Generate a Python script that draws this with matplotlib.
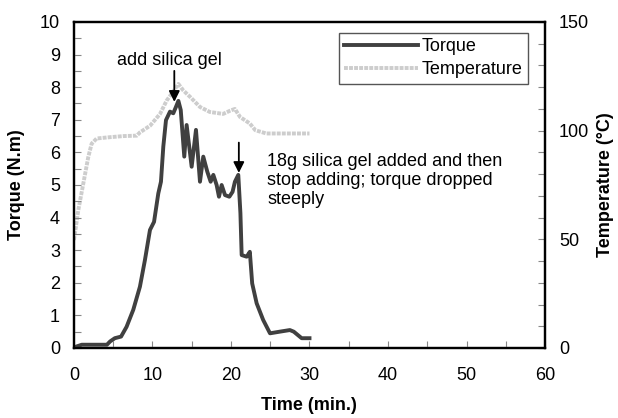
import matplotlib
matplotlib.use("Agg")
import matplotlib.pyplot as plt
from matplotlib.ticker import MultipleLocator

plt.rcParams["font.family"] = ["Liberation Sans", "DejaVu Sans"]

# Torque (N.m) vs time (min.)
torque_time = [0, 1, 2, 3, 4.2, 4.6, 5.2, 6.0, 6.7, 7.55, 8.4, 9.04, 9.68, 10.2,
               10.74, 11.08, 11.38, 11.72, 12.23, 12.65, 13.0, 13.3, 13.6, 14.05,
               14.35, 14.99, 15.54, 16.05, 16.47, 16.98, 17.41, 17.75, 18.17,
               18.47, 18.81, 19.24, 19.79, 20.2, 20.5, 20.93, 21.2, 21.36, 22.0,
               22.4, 22.7, 23.27, 24.1, 24.97, 26.2, 27.5, 28.0, 29.0, 30.0]
torque = [0.02, 0.1, 0.1, 0.1, 0.1, 0.2, 0.3, 0.35, 0.65, 1.17, 1.88, 2.7, 3.62,
          3.87, 4.74, 5.1, 6.18, 6.99, 7.25, 7.2, 7.4, 7.58, 7.3, 5.87, 6.84,
          5.56, 6.69, 5.1, 5.87, 5.41, 5.1, 5.31, 5.0, 4.64, 5.0, 4.69, 4.64,
          4.79, 5.1, 5.31, 4.14, 2.85, 2.8, 2.95, 1.98, 1.37, 0.86, 0.45, 0.5,
          0.55, 0.5, 0.3, 0.3]

# Temperature (C) vs time (min.)
temp_time = [0, 0.55, 1.19, 1.83, 2.25, 2.89, 4.6, 6.3, 8.0, 8.4, 9.7, 10.96,
             11.8, 12.4, 13.3, 13.9, 14.8, 16.05, 17.3, 19.0, 19.9, 20.5, 21.15,
             22.4, 23.1, 24.5, 30.0]
temperature = [49.7, 63.4, 75.7, 88, 94, 96.4, 97, 97.5, 97.7, 99.2, 102.3,
               107.7, 113.8, 116.8, 121.5, 118.6, 115.5, 110.9, 108.6, 107.7,
               109.2, 110, 106.3, 103.3, 100.2, 98.7, 98.7]

fig, ax = plt.subplots(figsize=(6.18, 4.18), dpi=100)
fig.subplots_adjust(left=0.1197, right=0.8819, top=0.9474, bottom=0.1675)
ax2 = ax.twinx()
ax.set_zorder(ax2.get_zorder() + 1)
ax.patch.set_visible(False)

ln2, = ax2.plot(temp_time, temperature, color="#cdcdcd", lw=2.8,
                linestyle=(0, (1.0, 0.3)), label="Temperature")
ln1, = ax.plot(torque_time, torque, color="#404040", lw=2.8, label="Torque")

ax.set_xlim(0, 60)
ax.set_ylim(0, 10)
ax2.set_ylim(0, 150)

ax.xaxis.set_major_locator(MultipleLocator(10))
ax.xaxis.set_minor_locator(MultipleLocator(5))
ax.yaxis.set_major_locator(MultipleLocator(1))
ax.yaxis.set_minor_locator(MultipleLocator(0.5))
ax2.yaxis.set_major_locator(MultipleLocator(50))
ax2.yaxis.set_minor_locator(MultipleLocator(10))

ax.tick_params(axis="both", which="both", direction="in", length=5, width=0.8,
               color="#888888", labelsize=13)
ax.tick_params(axis="x", which="both", pad=14)
ax.tick_params(axis="y", which="both", pad=10)
ax2.tick_params(axis="y", which="both", direction="in", length=5, width=0.8,
                color="#888888", labelsize=13, pad=10)

for a in (ax, ax2):
    for s in a.spines.values():
        s.set_linewidth(1.6)
        s.set_color("black")

ax.legend(handles=[ln1, ln2], loc="upper right", bbox_to_anchor=(0.964, 0.967),
          fontsize=13, fancybox=False, framealpha=1, edgecolor="#555555",
          handlelength=4.1, handletextpad=0.2, borderpad=0.3, labelspacing=0.35,
          borderaxespad=0)

ax.annotate("", xy=(12.78, 7.55), xytext=(12.78, 8.5),
            arrowprops=dict(arrowstyle="-|>", color="black", lw=1.3,
                            mutation_scale=16, shrinkA=0, shrinkB=0))
ax.text(12.1, 8.83, "add silica gel", fontsize=13, ha="center", va="center")

ax.annotate("", xy=(21.0, 5.37), xytext=(21.0, 6.3),
            arrowprops=dict(arrowstyle="-|>", color="black", lw=1.3,
                            mutation_scale=16, shrinkA=0, shrinkB=0))
ax.text(24.6, 5.15, "18g silica gel added and then\nstop adding; torque dropped\nsteeply",
        fontsize=13, ha="left", va="center", linespacing=1.15)

fig.text(17 / 618, 1 - 185 / 418, "Torque (N.m)", rotation=90, fontsize=13,
         fontweight="bold", ha="center", va="center")
fig.text(606 / 618, 1 - 185 / 418, "Temperature (°C)", rotation=90, fontsize=13,
         fontweight="bold", ha="center", va="center")
fig.text(309 / 618, 1 - 406 / 418, "Time (min.)", fontsize=13,
         fontweight="bold", ha="center", va="center")

fig.savefig("out.png", dpi=100)
